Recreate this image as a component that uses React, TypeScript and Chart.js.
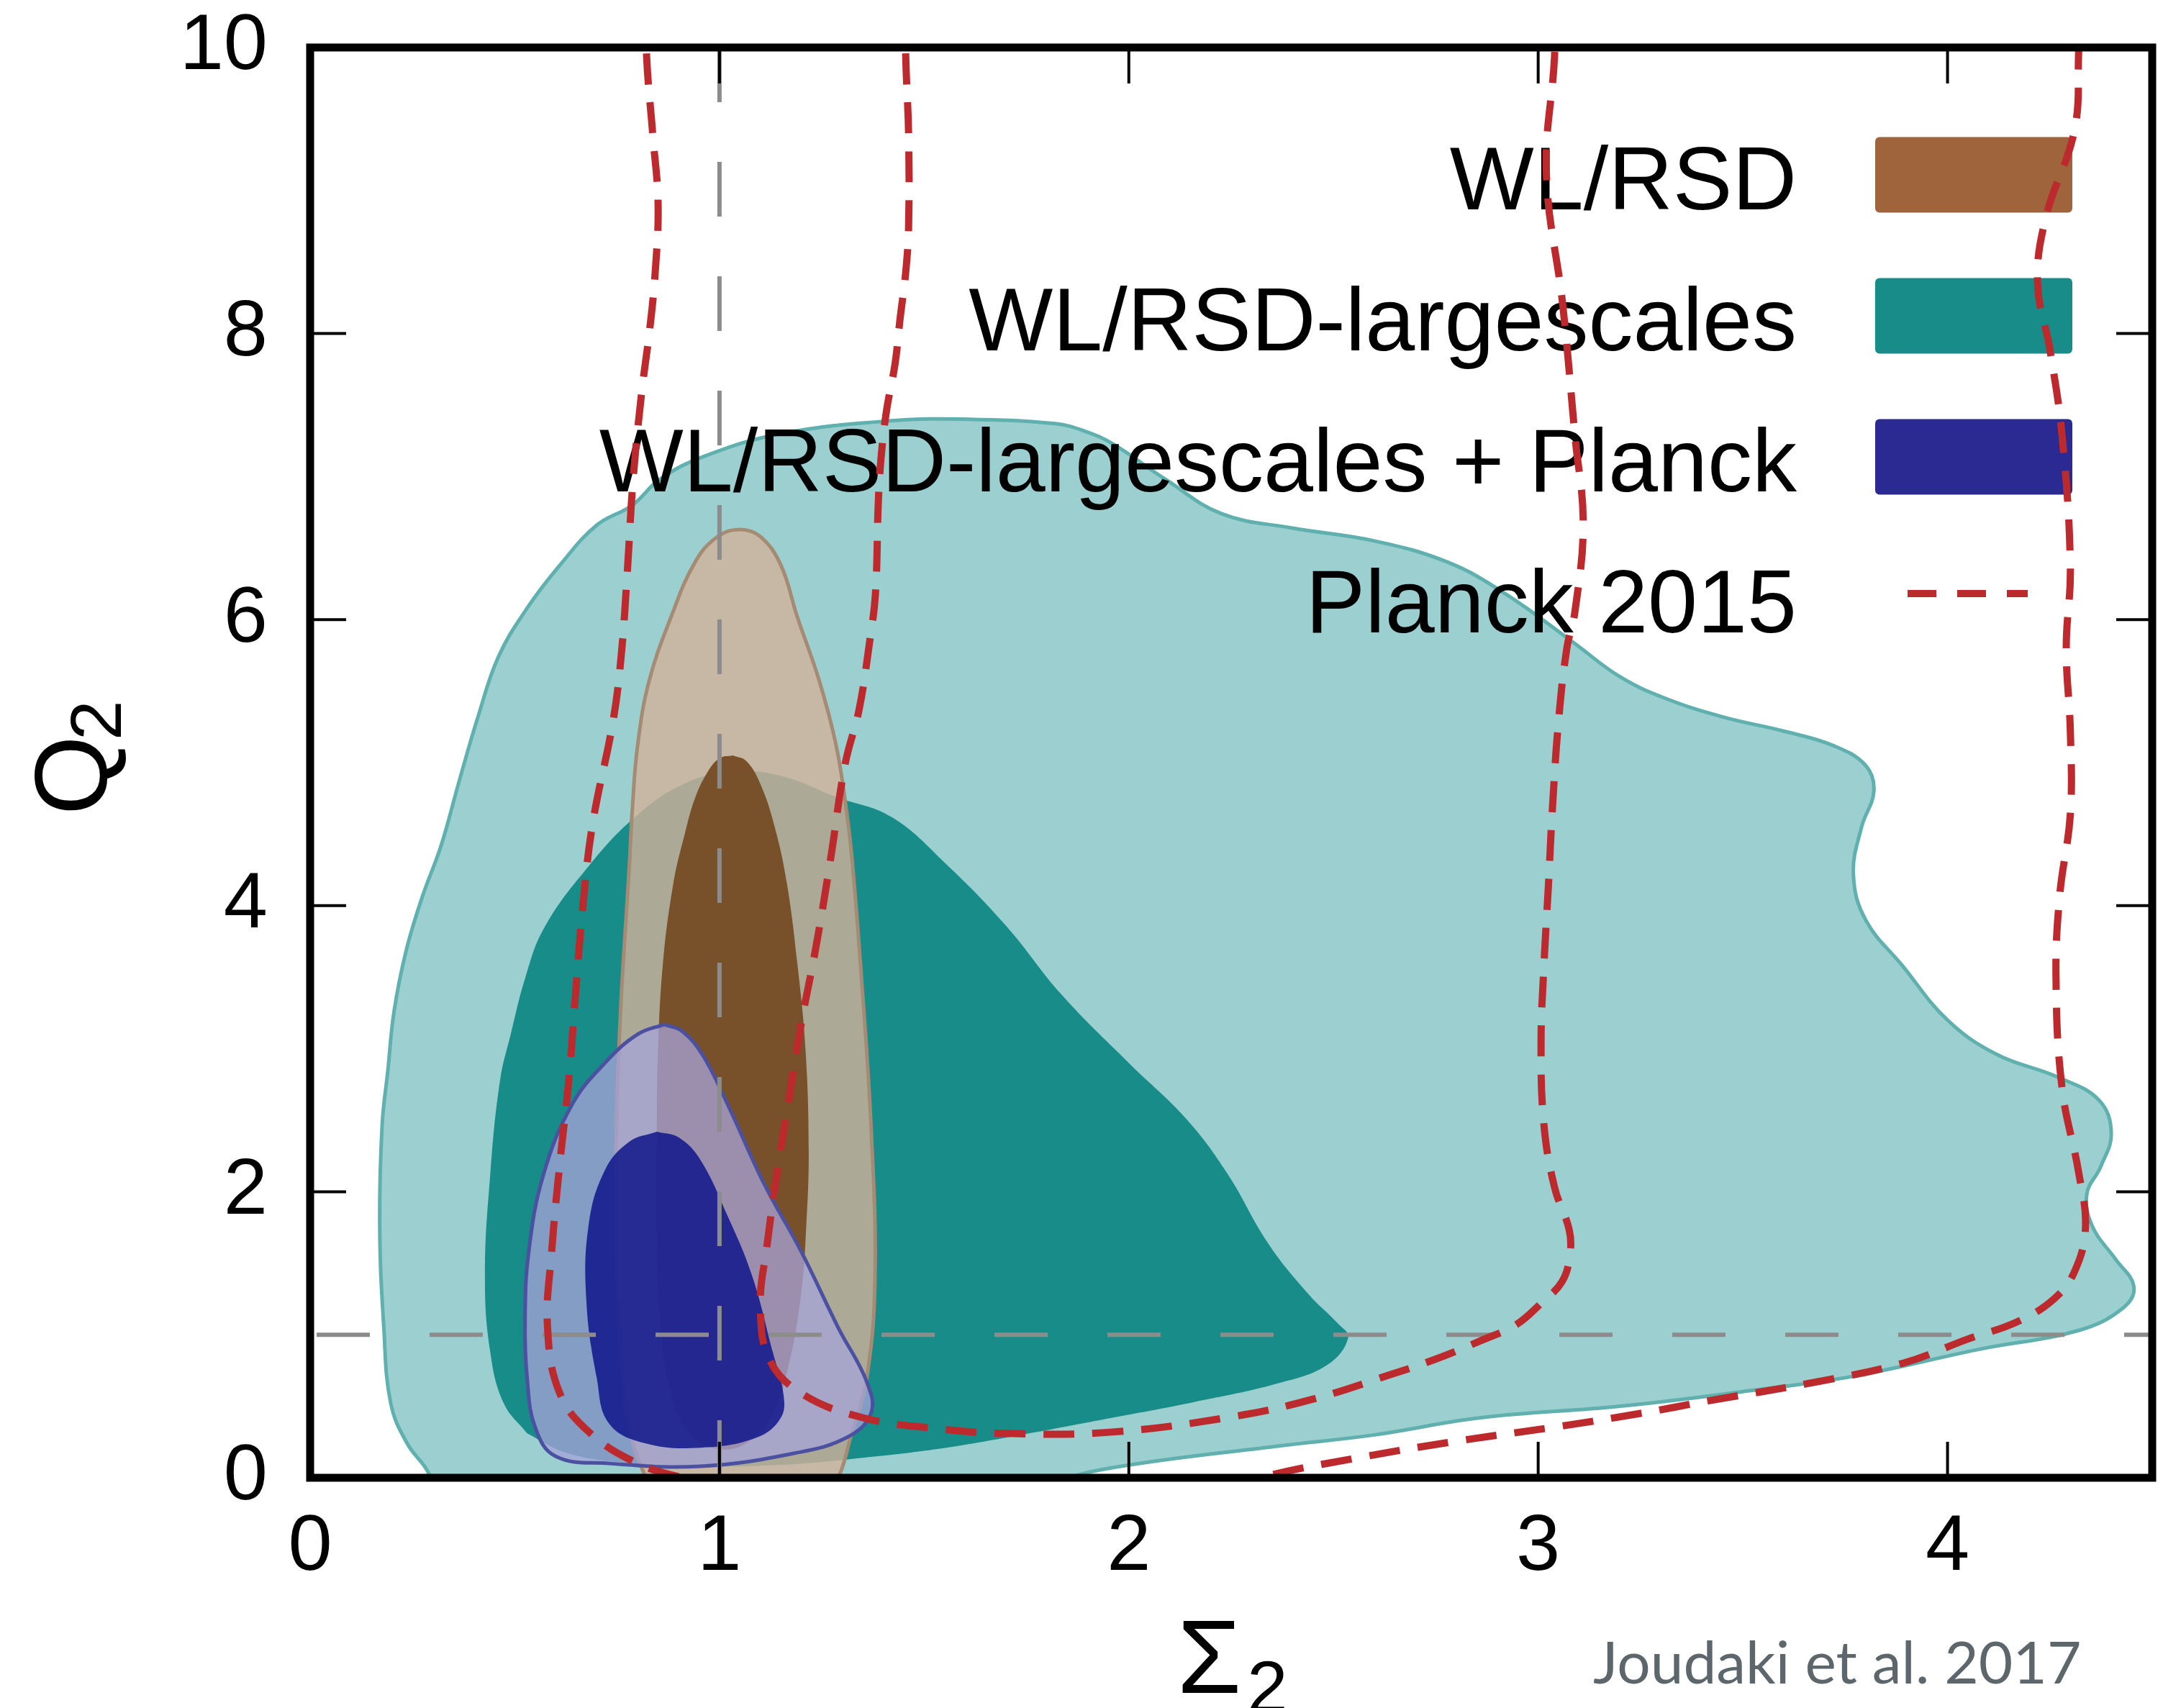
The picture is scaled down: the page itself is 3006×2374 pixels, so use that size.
import React, { useEffect, useRef } from 'react';
import { Chart, registerables } from 'chart.js';

Chart.register(...registerables);

type Pt = [number, number];

// Axes
const X_RANGE: Pt = [0, 4.5];
const Y_RANGE: Pt = [0, 10];
const X_TICKS = [0, 1, 2, 3, 4];
const Y_TICKS = [0, 2, 4, 6, 8, 10];

const LEGEND_LABELS = ['WL/RSD', 'WL/RSD-largescales', 'WL/RSD-largescales + Planck', 'Planck 2015'];
const CREDIT = 'Joudaki et al. 2017';

// WL/RSD-largescales, 95% contour
const LARGESCALES_95: Pt[] = [
  [0.33, -0.3], [0.29, 0.03], [0.237, 0.24], [0.197, 0.52], [0.18, 1.05], [0.17, 1.76], [0.176, 2.47],
  [0.19, 2.85], [0.205, 3.26], [0.235, 3.69], [0.275, 4.07], [0.32, 4.42], [0.365, 4.88], [0.41, 5.32],
  [0.46, 5.74], [0.53, 6.08], [0.61, 6.38], [0.7, 6.66], [0.787, 6.8], [0.854, 6.98], [0.961, 7.14],
  [1.151, 7.3], [1.42, 7.39], [1.62, 7.4], [1.82, 7.37], [1.89, 7.32], [1.96, 7.23], [2.09, 6.98],
  [2.227, 6.74], [2.4, 6.64], [2.6, 6.55], [2.78, 6.4], [2.92, 6.18], [3.086, 5.84], [3.2, 5.6],
  [3.31, 5.45], [3.45, 5.32], [3.6, 5.22], [3.72, 5.12], [3.8, 4.98], [3.82, 4.8], [3.79, 4.55],
  [3.77, 4.22], [3.8, 3.9], [3.89, 3.58], [4.0, 3.2], [4.12, 2.96], [4.27, 2.8], [4.37, 2.64],
  [4.4, 2.41], [4.375, 2.18], [4.34, 1.98], [4.355, 1.75], [4.41, 1.53], [4.455, 1.34], [4.43, 1.19],
  [4.32, 1.03], [4.08, 0.9], [3.77, 0.71], [3.52, 0.61], [3.2, 0.5], [2.86, 0.42], [2.6, 0.3],
  [2.36, 0.22], [1.96, 0.07], [1.8, -0.05], [1.6, -0.3], [0.33, -0.3],
];

// WL/RSD-largescales, 68% contour
const LARGESCALES_68: Pt[] = [
  [0.53, 0.31], [0.473, 0.52], [0.44, 0.88], [0.427, 1.41], [0.44, 2.12], [0.464, 2.78], [0.49, 3.1],
  [0.525, 3.49], [0.571, 3.84], [0.673, 4.25], [0.794, 4.62], [0.92, 4.86], [1.04, 4.94], [1.16, 4.9],
  [1.285, 4.76], [1.42, 4.62], [1.554, 4.29], [1.7, 3.86], [1.835, 3.38], [2.0, 2.9], [2.14, 2.51],
  [2.24, 2.13], [2.34, 1.64], [2.44, 1.28], [2.51, 1.08], [2.536, 0.98], [2.485, 0.79], [2.364, 0.66],
  [2.16, 0.53], [1.96, 0.42], [1.756, 0.31], [1.554, 0.21], [1.35, 0.14], [1.15, 0.09], [0.95, 0.08],
  [0.75, 0.11], [0.62, 0.18], [0.53, 0.31],
];

// WL/RSD, 95% contour
const WLRSD_95: Pt[] = [
  [1.05, -0.4], [0.86, -0.2], [0.82, 0.0], [0.78, 0.35], [0.755, 1.05], [0.747, 2.12], [0.757, 3.18],
  [0.78, 4.29], [0.787, 4.67], [0.8, 5.12], [0.828, 5.57], [0.882, 6.02], [0.94, 6.4], [0.995, 6.58],
  [1.05, 6.63], [1.1, 6.58], [1.15, 6.38], [1.19, 6.02], [1.244, 5.57], [1.285, 5.12], [1.31, 4.67],
  [1.325, 4.29], [1.346, 3.53], [1.37, 2.47], [1.38, 1.41], [1.36, 0.7], [1.32, 0.28], [1.29, 0.0],
  [1.24, -0.2], [1.05, -0.4],
];

// WL/RSD, 68% contour
const WLRSD_68: Pt[] = [
  [1.033, 5.05], [1.0, 5.03], [0.97, 4.93], [0.94, 4.75], [0.915, 4.5], [0.887, 4.15], [0.862, 3.6],
  [0.85, 3.0], [0.847, 2.47], [0.846, 1.8], [0.855, 1.1], [0.88, 0.6], [0.93, 0.3], [1.0, 0.2],
  [1.07, 0.25], [1.13, 0.45], [1.17, 0.8], [1.2, 1.3], [1.212, 1.76], [1.218, 2.29], [1.21, 3.0],
  [1.19, 3.6], [1.165, 4.15], [1.135, 4.55], [1.1, 4.85], [1.066, 5.01], [1.033, 5.05],
];

// WL/RSD-largescales + Planck, 95% contour
const COMBINED_95: Pt[] = [
  [0.865, 3.17], [0.8, 3.1], [0.72, 2.9], [0.64, 2.61], [0.57, 2.12], [0.534, 1.58], [0.525, 1.1],
  [0.53, 0.7], [0.55, 0.35], [0.6, 0.15], [0.73, 0.1], [0.954, 0.08], [1.18, 0.17], [1.31, 0.28],
  [1.37, 0.45], [1.36, 0.67], [1.29, 1.05], [1.2, 1.58], [1.11, 2.05], [1.02, 2.61], [0.96, 2.95],
  [0.91, 3.12], [0.865, 3.17],
];

// WL/RSD-largescales + Planck, 68% contour
const COMBINED_68: Pt[] = [
  [0.847, 2.42], [0.78, 2.35], [0.72, 2.15], [0.68, 1.76], [0.675, 1.23], [0.7, 0.7], [0.73, 0.38],
  [0.82, 0.24], [0.954, 0.21], [1.09, 0.28], [1.15, 0.42], [1.156, 0.59], [1.13, 0.88], [1.08, 1.41],
  [1.02, 1.83], [0.954, 2.22], [0.9, 2.38], [0.847, 2.42],
];

// Planck 2015, 68% contour (open above Q2 = 10)
const PLANCK_68: Pt[] = [
  [1.455, 10.3], [1.455, 9.94], [1.462, 9.39], [1.462, 8.75], [1.455, 8.43], [1.441, 8.1], [1.429, 7.79],
  [1.408, 7.46], [1.395, 7.14], [1.388, 6.82], [1.381, 6.18], [1.367, 5.85], [1.341, 5.37], [1.307, 4.99],
  [1.27, 4.3], [1.235, 3.7], [1.2, 3.18], [1.17, 2.65], [1.14, 2.12], [1.115, 1.6], [1.1, 1.23],
  [1.12, 0.84], [1.2, 0.59], [1.35, 0.42], [1.51, 0.35], [1.7, 0.31], [1.96, 0.32], [2.26, 0.43],
  [2.45, 0.55], [2.638, 0.72], [2.75, 0.83], [2.861, 0.96], [2.946, 1.07], [3.007, 1.22], [3.058, 1.37],
  [3.077, 1.55], [3.076, 1.73], [3.04, 2.03], [3.014, 2.47], [3.007, 3.03], [3.014, 3.58], [3.025, 4.14],
  [3.035, 4.69], [3.05, 5.3], [3.07, 5.8], [3.09, 6.06], [3.11, 6.67], [3.09, 7.28], [3.06, 8.2],
  [3.02, 9.12], [3.04, 9.94], [3.04, 10.3],
];

// Planck 2015, 95% contour (open above Q2 = 10, dips below Q2 = 0)
const PLANCK_95: Pt[] = [
  [0.822, 10.3], [0.822, 9.94], [0.837, 9.39], [0.85, 8.91], [0.843, 8.43], [0.83, 8.04], [0.81, 7.59],
  [0.789, 6.98], [0.775, 6.34], [0.76, 5.75], [0.74, 5.29], [0.69, 4.57], [0.666, 3.99], [0.645, 3.26],
  [0.632, 2.78], [0.61, 2.2], [0.59, 1.58], [0.58, 1.05], [0.61, 0.59], [0.685, 0.31], [0.8, 0.1],
  [0.91, 0.0], [1.05, -0.1], [1.3, -0.25], [1.8, -0.3], [2.1, -0.2], [2.32, 0.0], [2.58, 0.15],
  [2.81, 0.26], [3.03, 0.35], [3.25, 0.45], [3.42, 0.54], [3.66, 0.66], [3.89, 0.8], [4.05, 0.97],
  [4.17, 1.09], [4.26, 1.25], [4.31, 1.44], [4.337, 1.75], [4.32, 2.14], [4.28, 2.72], [4.265, 3.49],
  [4.274, 4.07], [4.3, 4.64], [4.3, 5.22], [4.29, 5.8], [4.3, 6.37], [4.28, 7.28], [4.25, 7.89],
  [4.22, 8.35], [4.24, 8.81], [4.31, 9.42], [4.32, 9.94], [4.32, 10.3],
];

// Reference values Sigma2 = 1 and Q2 = 1
const REF_SIGMA: Pt[] = [[1, 10], [1, 0]];
const REF_Q: Pt[] = [[0, 1], [4.5, 1]];

const FONT = '"Liberation Sans", Arial, sans-serif';
const RED = '#bd2a2e';
const DASH_RED = [43, 25];
const LEGEND_SWATCHES = ['#a0643c', '#178c88', '#2a2a92'];

const toXY = (pts: Pt[]) => pts.map(([x, y]) => ({ x, y }));

const framePlugin = {
  id: 'frame',
  afterDatasetsDraw(chart: any) {
    const { ctx, chartArea: a, scales } = chart;
    const xs = scales.x;
    const ys = scales.y;
    const seg = (x1: number, y1: number, x2: number, y2: number) => {
      ctx.beginPath();
      ctx.moveTo(x1, y1);
      ctx.lineTo(x2, y2);
      ctx.stroke();
    };
    ctx.save();
    ctx.strokeStyle = '#000';
    ctx.lineWidth = 4;
    const len = 50;
    for (const v of X_TICKS) {
      if (v <= X_RANGE[0] || v >= X_RANGE[1]) continue;
      const px = xs.getPixelForValue(v);
      seg(px, a.bottom, px, a.bottom - len);
      seg(px, a.top, px, a.top + len);
    }
    for (const v of Y_TICKS) {
      if (v <= Y_RANGE[0] || v >= Y_RANGE[1]) continue;
      const py = ys.getPixelForValue(v);
      seg(a.left, py, a.left + len, py);
      seg(a.right, py, a.right - len, py);
    }
    ctx.lineWidth = 11;
    ctx.lineJoin = 'miter';
    ctx.strokeRect(a.left, a.top, a.right - a.left, a.bottom - a.top);
    ctx.restore();
  },
};

const legendPlugin = {
  id: 'contourLegend',
  afterDatasetDraw(chart: any, args: any) {
    if (args.index !== 2) return;
    const { ctx, chartArea: a } = chart;
    const textRight = a.right - 494;
    const boxLeft = a.right - 385;
    const boxW = 274;
    const boxH = 105;
    const firstBaseline = a.top + 225;
    const step = 196;
    ctx.save();
    ctx.font = `124px ${FONT}`;
    ctx.textAlign = 'right';
    ctx.textBaseline = 'alphabetic';
    ctx.fillStyle = '#000';
    LEGEND_LABELS.forEach((label, i) => {
      const base = firstBaseline + i * step;
      ctx.fillText(label, textRight, base);
      const mid = base - 48;
      if (i < LEGEND_SWATCHES.length) {
        ctx.fillStyle = LEGEND_SWATCHES[i];
        ctx.beginPath();
        (ctx as any).roundRect(boxLeft, mid - boxH / 2, boxW, boxH, 6);
        ctx.fill();
        ctx.fillStyle = '#000';
      } else {
        ctx.strokeStyle = RED;
        ctx.lineWidth = 10;
        ctx.setLineDash([40, 29]);
        ctx.beginPath();
        ctx.moveTo(boxLeft + 45, mid - 6);
        ctx.lineTo(boxLeft + 212, mid - 6);
        ctx.stroke();
        ctx.setLineDash([]);
      }
    });
    ctx.restore();
  },
};

const titlesPlugin = {
  id: 'axisTitles',
  afterDraw(chart: any) {
    const { ctx } = chart;
    ctx.save();
    ctx.fillStyle = '#000';
    ctx.textAlign = 'left';
    ctx.textBaseline = 'alphabetic';
    // x-axis title: Sigma_2
    ctx.font = `144px ${FONT}`;
    ctx.fillText('Σ', 1636, 2353);
    ctx.font = `102px ${FONT}`;
    ctx.fillText('2', 1733, 2380);
    // y-axis title: Q_2
    ctx.translate(148, 1133);
    ctx.rotate(-Math.PI / 2);
    ctx.font = `142px ${FONT}`;
    ctx.fillText('Q', 0, 0);
    ctx.font = `100px ${FONT}`;
    ctx.fillText('2', 104, 20);
    ctx.restore();
    // credit line
    ctx.save();
    ctx.fillStyle = '#5d676b';
    ctx.font = '82px Lato, "Open Sans", sans-serif';
    ctx.textAlign = 'left';
    ctx.textBaseline = 'alphabetic';
    ctx.fillText(CREDIT, 2214, 2340);
    ctx.restore();
  },
};

function contour(label: string, pts: Pt[], fill: string, edge: string | null) {
  return {
    label,
    data: toXY(pts),
    fill: 'shape',
    backgroundColor: fill,
    borderColor: edge ?? 'rgba(0,0,0,0)',
    borderWidth: edge ? 5 : 0,
    pointRadius: 0,
    tension: 0.4,
  };
}

// keep label overflow from pushing the plot area inward
const zeroPadding = (s: any) => {
  s.paddingTop = 0;
  s.paddingBottom = 0;
  s.paddingLeft = 0;
  s.paddingRight = 0;
};

export default function App() {
  const canvasRef = useRef<HTMLCanvasElement | null>(null);

  useEffect(() => {
    const canvas = canvasRef.current;
    if (!canvas) return;
    const chart = new Chart(canvas, {
      type: 'line',
      data: {
        datasets: [
          {
            label: 'Planck 2015 (68%)',
            data: toXY(PLANCK_68),
            fill: false,
            borderColor: RED,
            borderWidth: 10,
            borderDash: DASH_RED,
            pointRadius: 0,
            tension: 0.4,
          },
          {
            label: 'Planck 2015 (95%)',
            data: toXY(PLANCK_95),
            fill: false,
            borderColor: RED,
            borderWidth: 10,
            borderDash: DASH_RED,
            pointRadius: 0,
            tension: 0.4,
          },
          {
            label: 'Sigma2 = 1',
            data: toXY(REF_SIGMA),
            fill: false,
            borderColor: '#8c8c8c',
            borderWidth: 6,
            borderDash: [76, 83],
            pointRadius: 0,
            tension: 0,
          },
          {
            label: 'Q2 = 1',
            data: toXY(REF_Q),
            fill: false,
            borderColor: '#8c8c8c',
            borderWidth: 6,
            borderDash: [74, 83],
            borderDashOffset: -9,
            pointRadius: 0,
            tension: 0,
          },
          contour('WL/RSD-largescales + Planck (68%)', COMBINED_68, 'rgba(16,22,138,0.86)', null),
          contour('WL/RSD-largescales + Planck (95%)', COMBINED_95, 'rgba(165,163,215,0.76)', '#4b50a0'),
          contour('WL/RSD (68%)', WLRSD_68, 'rgba(118,76,36,0.96)', null),
          contour('WL/RSD (95%)', WLRSD_95, 'rgba(210,177,154,0.8)', '#a58b73'),
          contour('WL/RSD-largescales (68%)', LARGESCALES_68, '#178c88', null),
          contour('WL/RSD-largescales (95%)', LARGESCALES_95, '#9cd0d0', '#5fb0ae'),
        ] as any,
      },
      options: {
        responsive: false,
        devicePixelRatio: 1,
        animation: false,
        events: [],
        layout: { padding: { top: 66, right: 15, left: 0, bottom: 0 } },
        elements: { line: { capBezierPoints: false } },
        plugins: {
          legend: { display: false },
          tooltip: { enabled: false },
        },
        scales: {
          x: {
            type: 'linear',
            min: X_RANGE[0],
            max: X_RANGE[1],
            afterBuildTicks: (s: any) => {
              s.ticks = X_TICKS.map((value) => ({ value }));
            },
            afterFit: (s: any) => {
              s.height = 320;
              zeroPadding(s);
            },
            grid: { display: false, drawTicks: false },
            border: { display: false },
            ticks: {
              padding: 32,
              color: '#000',
              maxRotation: 0,
              autoSkip: false,
              font: { family: FONT, size: 110 },
            },
          },
          y: {
            type: 'linear',
            min: Y_RANGE[0],
            max: Y_RANGE[1],
            afterBuildTicks: (s: any) => {
              s.ticks = Y_TICKS.map((value) => ({ value }));
            },
            afterFit: (s: any) => {
              s.width = 431;
              zeroPadding(s);
            },
            grid: { display: false, drawTicks: false },
            border: { display: false },
            ticks: {
              padding: 59,
              color: '#000',
              autoSkip: false,
              font: { family: FONT, size: 110 },
            },
          },
        },
      } as any,
      plugins: [framePlugin, legendPlugin, titlesPlugin],
    });
    return () => chart.destroy();
  }, []);

  return (
    <div style={{ position: 'absolute', left: 0, top: 0, width: 3006, height: 2374, background: '#fff' }}>
      <canvas ref={canvasRef} width={3006} height={2374} style={{ display: 'block', width: 3006, height: 2374 }} />
    </div>
  );
}
